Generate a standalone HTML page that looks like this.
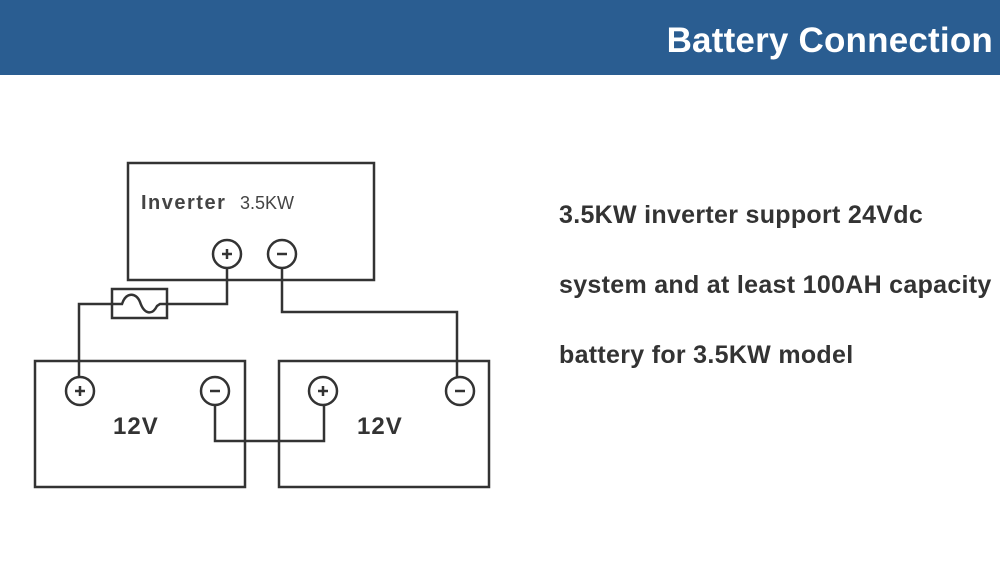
<!DOCTYPE html>
<html><head><meta charset="utf-8"><style>
html,body{margin:0;padding:0;width:1000px;height:561px;overflow:hidden;background:#fff;font-family:"Liberation Sans",sans-serif}
.hdr{position:absolute;left:0;top:0;width:1000px;height:75px;background:#2a5d91}
.title{position:absolute;right:7px;top:21px;color:#fff;font-weight:bold;font-size:35px;letter-spacing:0.2px}
.t{position:absolute;left:559px;color:#333;font-weight:bold;font-size:25px;letter-spacing:0.3px}
</style></head><body>
<div class="hdr"><div class="title">Battery Connection</div></div>
<svg style="position:absolute;left:0;top:0" width="1000" height="561">
<g fill="none" stroke="#333" stroke-width="2.5">
<rect x="128" y="163" width="246" height="117"/>
<rect x="112" y="289" width="55" height="29"/>
<path d="M112 304 H122 C126 292,136 292,140 302 C144 314,152 316,157 306 L160 304 H167"/>
<rect x="35" y="361" width="210" height="126"/>
<rect x="279" y="361" width="210" height="126"/>
<path d="M227 268 V304 H167 M112 304 H79 V377"/>
<path d="M282 268 V312 H457 V377"/>
<path d="M215 405 V441 H324 V405"/>
<circle cx="227" cy="254" r="14" fill="#fff"/>
<circle cx="282" cy="254" r="14" fill="#fff"/>
<circle cx="80" cy="391" r="14" fill="#fff"/>
<circle cx="215" cy="391" r="14" fill="#fff"/>
<circle cx="323" cy="391" r="14" fill="#fff"/>
<circle cx="460" cy="391" r="14" fill="#fff"/>
</g>
<g stroke="#333" stroke-width="2.5">
<path d="M222 254 H232 M227 249 V259"/>
<path d="M277 254 H287"/>
<path d="M75 391 H85 M80 386 V396"/>
<path d="M210 391 H220"/>
<path d="M318 391 H328 M323 386 V396"/>
<path d="M455 391 H465"/>
</g>
<text x="141" y="209" font-family="Liberation Sans" font-weight="bold" font-size="20" letter-spacing="1.5" fill="#444">Inverter</text>
<text x="240" y="209" font-family="Liberation Sans" font-size="18" fill="#444">3.5KW</text>
<text x="113" y="434" font-family="Liberation Sans" font-weight="bold" font-size="24" letter-spacing="1" fill="#333">12V</text>
<text x="357" y="434" font-family="Liberation Sans" font-weight="bold" font-size="24" letter-spacing="1" fill="#333">12V</text>
</svg>
<div class="t" style="top:201px">3.5KW inverter support 24Vdc</div>
<div class="t" style="top:271px">system and at least 100AH capacity</div>
<div class="t" style="top:341px">battery for 3.5KW model</div>
</body></html>
